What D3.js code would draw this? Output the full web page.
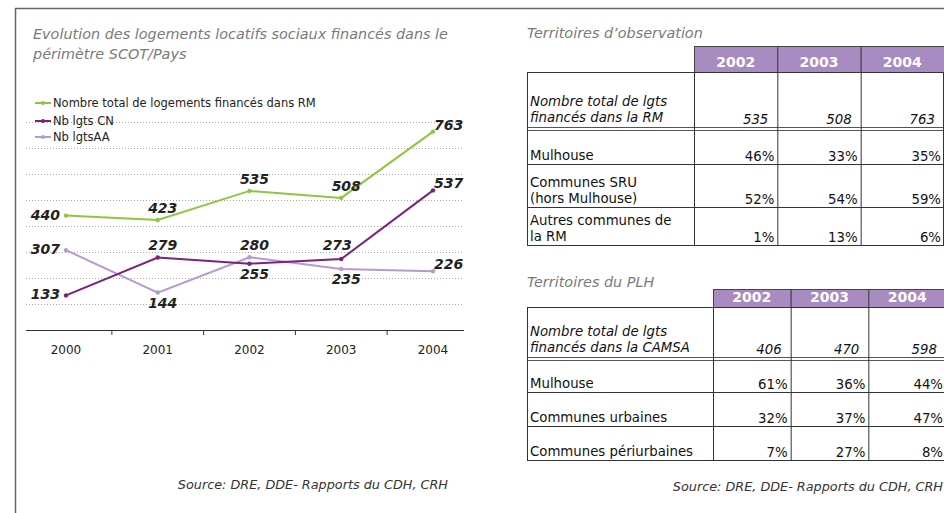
<!DOCTYPE html>
<html>
<head>
<meta charset="utf-8">
<script src="https://d3js.org/d3.v7.min.js"></script>
<style>
  body { margin: 0; background: #fff; }
  svg { display: block; }
</style>
</head>
<body>
<script>
const W = 944, H = 513;

// chart data
const years = ['2000', '2001', '2002', '2003', '2004'];
const totalRM = [440, 423, 535, 508, 763];
const lgtsCN = [133, 279, 255, 273, 537];
const lgtsAA = [307, 144, 280, 235, 226];
const seriesNames = ['Nombre total de logements financés dans RM', 'Nb lgts CN', 'Nb lgtsAA'];
const seriesColors = ['#8dc63f', '#7b217f', '#b49ad2'];
// where each value label sits relative to its point
const labelPlaceRM = ['left', 'above', 'above', 'above', 'right'];
const labelPlaceCN = ['left', 'above', 'below', 'aboveLeft', 'right'];
const labelPlaceAA = ['left', 'below', 'above', 'below', 'right'];

// tables
const tableYears = ['2002', '2003', '2004'];
const obsRows = ['Nombre total de lgts|financés dans la RM', 'Mulhouse', 'Communes SRU|(hors Mulhouse)', 'Autres communes de|la RM'];
const obsValues = [['535', '508', '763'], ['46%', '33%', '35%'], ['52%', '54%', '59%'], ['1%', '13%', '6%']];
const plhRows = ['Nombre total de lgts|financés dans la CAMSA', 'Mulhouse', 'Communes urbaines', 'Communes périurbaines'];
const plhValues = [['406', '470', '598'], ['61%', '36%', '44%'], ['32%', '37%', '47%'], ['7%', '27%', '8%']];

const sourceText = 'Source: DRE, DDE- Rapports du CDH, CRH';
const FONT = '"DejaVu Sans", Verdana, sans-serif';

const svg = d3.select('body').append('svg').attr('width', W).attr('height', H);

// frame
svg.append('line').attr('x1', 15).attr('x2', W).attr('y1', 8.5).attr('y2', 8.5)
    .attr('stroke', '#666').attr('stroke-width', 1.5);
svg.append('line').attr('x1', 15.5).attr('x2', 15.5).attr('y1', 8).attr('y2', H)
    .attr('stroke', '#666').attr('stroke-width', 1.5);

// ---------- left: line chart ----------
svg.append('text').attr('x', 33).attr('y', 39)
    .attr('font-family', FONT).attr('font-size', '14.4px').attr('font-style', 'italic').attr('fill', '#7a7a7a')
    .text('Evolution des logements locatifs sociaux financés dans le');
svg.append('text').attr('x', 33).attr('y', 59)
    .attr('font-family', FONT).attr('font-size', '14.4px').attr('font-style', 'italic').attr('fill', '#7a7a7a')
    .text('périmètre SCOT/Pays');

const x = d3.scalePoint().domain(years).range([66, 433]);
const y = d3.scaleLinear().domain([0, 800]).range([330, 122]);
const gridLeft = 26, gridRight = 464;

svg.append('g').selectAll('line')
    .data(y.ticks(8).filter(t => t > 0))
    .enter().append('line')
    .attr('x1', gridLeft).attr('x2', gridRight)
    .attr('y1', d => Math.round(y(d)) + 0.5).attr('y2', d => Math.round(y(d)) + 0.5)
    .attr('stroke', '#aaa').attr('stroke-dasharray', '1,2');

// legend
const legendY = [103, 121, 137];
seriesNames.forEach((name, i) => {
    const g = svg.append('g');
    g.append('line').attr('x1', 35).attr('x2', 51).attr('y1', legendY[i]).attr('y2', legendY[i])
        .attr('stroke', seriesColors[i]).attr('stroke-width', 2);
    g.append('circle').attr('cx', 43).attr('cy', legendY[i]).attr('r', 2).attr('fill', seriesColors[i]);
    g.append('text').attr('x', 53).attr('y', legendY[i] + 4)
        .attr('font-family', FONT).attr('font-size', '11.5px').attr('fill', '#222').text(name);
});

// x axis
svg.append('line').attr('x1', gridLeft).attr('x2', gridRight).attr('y1', 330.5).attr('y2', 330.5)
    .attr('stroke', '#333').attr('stroke-width', 1.2);
const step = x.step();
svg.append('g').selectAll('line')
    .data(years.slice(0, -1))
    .enter().append('line')
    .attr('x1', d => x(d) + step / 2).attr('x2', d => x(d) + step / 2)
    .attr('y1', 330).attr('y2', 335).attr('stroke', '#333');
svg.append('g').selectAll('text')
    .data(years)
    .enter().append('text')
    .attr('x', d => x(d)).attr('y', 354)
    .attr('text-anchor', 'middle')
    .attr('font-family', FONT).attr('font-size', '12px').attr('fill', '#222')
    .text(d => d);

// series
const series = [
    { values: totalRM, color: seriesColors[0], place: labelPlaceRM },
    { values: lgtsCN, color: seriesColors[1], place: labelPlaceCN },
    { values: lgtsAA, color: seriesColors[2], place: labelPlaceAA }
];
const line = d3.line().x((d, i) => x(years[i])).y(d => y(d));

series.slice().reverse().forEach(s => {
    svg.append('path').datum(s.values)
        .attr('d', line).attr('fill', 'none')
        .attr('stroke', s.color).attr('stroke-width', 2);
    svg.append('g').selectAll('circle')
        .data(s.values).enter().append('circle')
        .attr('cx', (d, i) => x(years[i])).attr('cy', d => y(d))
        .attr('r', 2.2).attr('fill', s.color);
});

const placeOffset = {
    left: { dx: -6, dy: 4, anchor: 'end' },
    above: { dx: 5, dy: -7, anchor: 'middle' },
    aboveLeft: { dx: -4, dy: -9, anchor: 'middle' },
    below: { dx: 5, dy: 15, anchor: 'middle' },
    right: { dx: 1, dy: -2, anchor: 'start' }
};
series.forEach(s => {
    svg.append('g').selectAll('text')
        .data(s.values).enter().append('text')
        .attr('x', (d, i) => x(years[i]) + placeOffset[s.place[i]].dx)
        .attr('y', (d, i) => y(d) + placeOffset[s.place[i]].dy)
        .attr('text-anchor', (d, i) => placeOffset[s.place[i]].anchor)
        .attr('font-family', FONT).attr('font-size', '14px')
        .attr('font-weight', 'bold').attr('font-style', 'italic').attr('fill', '#222')
        .text(d => d);
});

svg.append('text').attr('x', 448).attr('y', 489).attr('text-anchor', 'end')
    .attr('font-family', FONT).attr('font-size', '12.8px').attr('font-style', 'italic').attr('fill', '#333')
    .text(sourceText);

// ---------- right: tables ----------
function drawTable(opts) {
    const g = svg.append('g');
    g.append('text').attr('x', 527).attr('y', opts.titleY)
        .attr('font-family', FONT).attr('font-size', '14.4px').attr('font-style', 'italic').attr('fill', '#7a7a7a')
        .text(opts.title);

    const col = d3.scaleBand().domain(tableYears).range(opts.colRange);
    const left = 527, right = opts.colRange[1];

    // header
    g.selectAll('rect.h').data(tableYears).enter().append('rect')
        .attr('x', d => col(d) + 0.5).attr('y', opts.headTop + 0.5)
        .attr('width', col.bandwidth()).attr('height', opts.bodyTop - opts.headTop)
        .attr('fill', '#a88bc1').attr('stroke', '#444').attr('stroke-width', 1);
    g.selectAll('text.h').data(tableYears).enter().append('text')
        .attr('x', d => col(d) + col.bandwidth() / 2).attr('y', opts.bodyTop - 5)
        .attr('text-anchor', 'middle')
        .attr('font-family', FONT).attr('font-size', '14px').attr('font-weight', 'bold').attr('fill', '#fff')
        .text(d => d);

    // row edges
    const edges = [opts.bodyTop];
    opts.rowHeights.forEach((h, i) => edges.push(edges[i] + h));
    const bottom = edges[edges.length - 1];

    // horizontal rules
    edges.forEach((e, i) => {
        if (i === 1) {
            g.append('line').attr('x1', left).attr('x2', right).attr('y1', e - 1.5).attr('y2', e - 1.5)
                .attr('stroke', '#555');
            g.append('line').attr('x1', left).attr('x2', right).attr('y1', e + 1.5).attr('y2', e + 1.5)
                .attr('stroke', '#555');
        } else {
            g.append('line').attr('x1', left).attr('x2', right).attr('y1', e + 0.5).attr('y2', e + 0.5)
                .attr('stroke', '#333');
        }
    });
    // verticals
    [left].concat(tableYears.map(d => col(d))).concat([right - 1]).forEach(vx => {
        g.append('line').attr('x1', vx + 0.5).attr('x2', vx + 0.5).attr('y1', opts.bodyTop).attr('y2', bottom + 1)
            .attr('stroke', '#333');
    });

    // row labels + values
    opts.rows.forEach((label, r) => {
        const lines = label.split('|');
        const base = edges[r + 1] - (r === 0 ? 7 : 4);
        lines.forEach((t, k) => {
            g.append('text').attr('x', left + 3).attr('y', base - (lines.length - 1 - k) * 16)
                .attr('font-family', FONT).attr('font-size', '13.3px')
                .attr('font-style', r === 0 ? 'italic' : 'normal').attr('fill', '#111')
                .text(t);
        });
        g.selectAll(null).data(opts.values[r]).enter().append('text')
            .attr('x', (d, c) => col(tableYears[c]) + col.bandwidth() - (r === 0 ? 9 : 3))
            .attr('y', base + (r === 0 ? 2 : 1))
            .attr('text-anchor', 'end')
            .attr('font-family', FONT).attr('font-size', '13.3px')
            .attr('font-style', r === 0 ? 'italic' : 'normal').attr('fill', '#111')
            .text(d => d);
    });
}

drawTable({
    title: 'Territoires d\u2019observation', titleY: 38,
    colRange: [694, 944], headTop: 46, bodyTop: 72,
    rowHeights: [57, 35, 43, 38],
    rows: obsRows, values: obsValues
});
drawTable({
    title: 'Territoires du PLH', titleY: 287,
    colRange: [713, 946], headTop: 289, bodyTop: 307,
    rowHeights: [52, 33, 34, 34],
    rows: plhRows, values: plhValues
});

svg.append('text').attr('x', 943).attr('y', 491).attr('text-anchor', 'end')
    .attr('font-family', FONT).attr('font-size', '12.8px').attr('font-style', 'italic').attr('fill', '#333')
    .text(sourceText);
</script>
</body>
</html>
